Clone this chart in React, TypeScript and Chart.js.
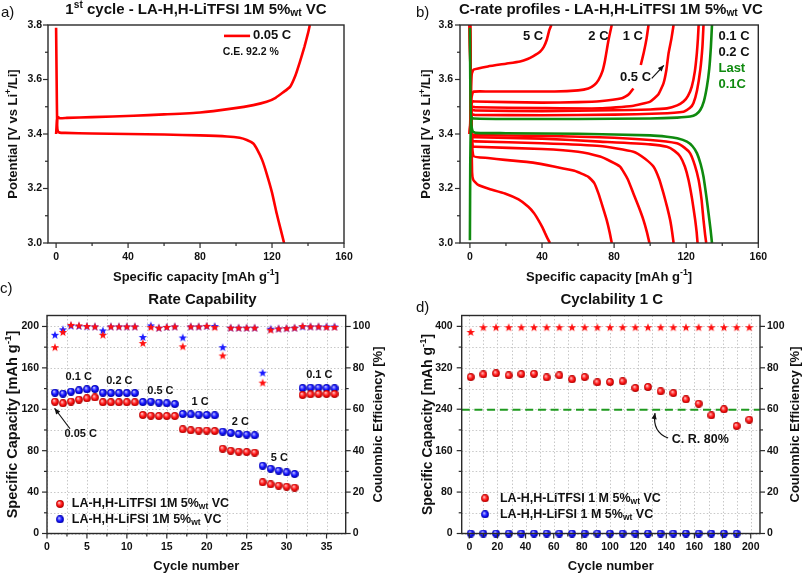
import React, { useEffect, useRef } from 'react';
import { Chart, registerables } from 'chart.js';
Chart.register(...registerables);

type P = [number, number | null];
type Seg = [string, string?];
const FONT = '"Liberation Sans", Arial, Helvetica, sans-serif';
const RED = '#ff0000';
const GREEN = '#0f8a0f';
const INK = '#111111';

// ================= Panel a : 1st cycle, 0.05 C =================
const aCharge005C: P[] = [[0, 3.40], [0.5, 3.45], [1, 3.462], [2, 3.458], [6, 3.459], [20, 3.462], [43, 3.467], [60, 3.472], [80, 3.479], [98.5, 3.494], [109.6, 3.506], [117, 3.518], [122, 3.533], [126, 3.552], [130, 3.573], [133, 3.615], [135.5, 3.665], [138, 3.72], [140, 3.77], [141, 3.8]];
const aDischarge005C: P[] = [[0, 3.79], [0.3, 3.6], [0.6, 3.43], [1, 3.41], [2, 3.405], [5, 3.404], [20, 3.402], [40, 3.4], [60, 3.398], [80, 3.395], [95, 3.391], [102, 3.386], [106, 3.378], [109.6, 3.365], [112, 3.34], [114.5, 3.305], [117, 3.255], [120, 3.185], [122.6, 3.108], [124.8, 3.05], [126.7, 3.0]];
const aXMajor = [0, 40, 80, 120, 160];
const aXMinor = [20, 60, 100, 140];
const aYMajor = [3.0, 3.2, 3.4, 3.6, 3.8];
const aYMinor = [3.1, 3.3, 3.5, 3.7];

// ================= Panel b : C-rate profiles =================
const bLastCharge01C: P[] = [[0, 3.01], [0.2, 3.3], [0.5, 3.43], [1, 3.46], [2, 3.457], [20, 3.455], [60, 3.455], [100, 3.457], [115, 3.46], [122.2, 3.464], [125.5, 3.472], [127.8, 3.488], [129.8, 3.52], [131.5, 3.574], [132.8, 3.64], [133.7, 3.72], [134.3, 3.8]];
const bLastDischarge01C: P[] = [[0, 3.79], [0.2, 3.6], [0.6, 3.45], [1.5, 3.41], [3, 3.404], [20, 3.403], [60, 3.401], [100, 3.395], [109.3, 3.39], [115, 3.384], [120.4, 3.372], [123.5, 3.355], [126, 3.329], [128, 3.29], [129.6, 3.243], [131.2, 3.17], [132.4, 3.109], [133.5, 3.05], [134.3, 3.0]];
const bCharge01C: P[] = [[0, 3.40], [0.5, 3.45], [1, 3.472], [3, 3.47], [40, 3.469], [80, 3.471], [105, 3.475], [118.5, 3.482], [122, 3.495], [124, 3.513], [126, 3.56], [127.8, 3.635], [129, 3.72], [129.6, 3.8]];
const bDischarge01C: P[] = [[0, 3.8], [0.5, 3.5], [1, 3.40], [3, 3.396], [40, 3.393], [72, 3.388], [100, 3.378], [114.8, 3.366], [119, 3.35], [122.2, 3.329], [124.8, 3.285], [126.9, 3.231], [128.5, 3.16], [129.6, 3.084], [130.5, 3.03], [131.1, 3.0]];
const bCharge02C: P[] = [[0, 3.40], [0.6, 3.47], [1.2, 3.488], [3, 3.486], [40, 3.484], [80, 3.487], [100, 3.49], [109.3, 3.494], [115, 3.505], [118.5, 3.519], [121, 3.54], [123.1, 3.574], [124.8, 3.63], [125.9, 3.696], [126.5, 3.75], [126.9, 3.8]];
const bDischarge02C: P[] = [[0, 3.8], [0.5, 3.5], [1.2, 3.39], [3, 3.388], [40, 3.383], [72.2, 3.372], [100, 3.362], [109.3, 3.353], [113.5, 3.338], [116.7, 3.317], [119.3, 3.28], [121.3, 3.231], [123.3, 3.16], [125, 3.084], [125.8, 3.04], [126.3, 3.0]];
const bCharge05C: P[] = [[0, 3.40], [0.6, 3.48], [1.3, 3.5], [3, 3.498], [40, 3.495], [72.2, 3.494], [90, 3.503], [100, 3.519], [104.5, 3.545], [107.4, 3.586], [109, 3.635], [110.2, 3.696], [111.8, 3.75], [113, 3.8]];
const bDischarge05C: P[] = [[0, 3.8], [0.5, 3.5], [1.3, 3.375], [3, 3.373], [40, 3.366], [72.2, 3.356], [90.7, 3.335], [97, 3.31], [101.9, 3.28], [105, 3.235], [107.4, 3.182], [109.5, 3.13], [111.1, 3.084], [112.2, 3.04], [113, 3.0]];
const bCharge1C: P[] = [[0, 3.40], [0.7, 3.5], [1.5, 3.52], [3, 3.519], [40, 3.515], [60, 3.517], [72, 3.52], [84.3, 3.531], [88, 3.545], [90.7, 3.567], [92.5, null], [94.8, 3.653], [96.5, 3.70], [98, 3.75], [99.1, 3.8]];
const bDischarge1C: P[] = [[0, 3.8], [0.5, 3.5], [1.5, 3.355], [3, 3.353], [40, 3.345], [60, 3.335], [72.2, 3.317], [78, 3.3], [83.3, 3.28], [87.5, 3.235], [90.7, 3.182], [93.8, 3.13], [96.3, 3.084], [98.2, 3.04], [99.6, 3.0]];
const bCharge2C: P[] = [[0, 3.40], [0.8, 3.53], [1.9, 3.555], [10, 3.556], [47, 3.556], [60, 3.56], [65.7, 3.567], [69, 3.58], [71.3, 3.598], [73.5, 3.63], [75, 3.672], [76.9, 3.745], [78.7, 3.8]];
const bDischarge2C: P[] = [[0, 3.8], [0.6, 3.5], [1.9, 3.32], [10, 3.312], [19.4, 3.305], [35, 3.295], [47.2, 3.28], [58, 3.265], [65.7, 3.243], [69, 3.22], [71.3, 3.182], [73.8, 3.13], [75.9, 3.084], [77.5, 3.04], [78.7, 3.0]];
const bCharge5C: P[] = [[0, 3.40], [0.6, 3.55], [1, 3.62], [2, 3.636], [10, 3.648], [20, 3.658], [27.8, 3.666], [32, 3.675], [35.2, 3.686], [38.9, 3.702], [41, 3.72], [42.6, 3.745], [44, 3.78], [45.2, 3.8]];
const bDischarge5C: P[] = [[0, 3.8], [0.6, 3.5], [1.2, 3.26], [1.9, 3.231], [4.6, 3.213], [10, 3.2], [19.4, 3.182], [27, 3.16], [32.4, 3.133], [35.5, 3.11], [38, 3.084], [40, 3.06], [41.7, 3.036], [43.2, 3.015], [44.4, 3.0]];

// ================= Panel c : rate capability =================
const cCycles = [1, 2, 3, 4, 5, 6, 7, 8, 9, 10, 11, 12, 13, 14, 15, 16, 17, 18, 19, 20, 21, 22, 23, 24, 25, 26, 27, 28, 29, 30, 31, 32, 33, 34, 35, 36];
const cCapLiTFSI = [127.3, 125.8, 127.5, 129.3, 130.6, 131.4, 126.8, 126.8, 126.8, 126.8, 126.8, 114.5, 113.8, 113.5, 113.5, 113.5, 100.7, 99.7, 99.4, 99.4, 99.0, 81.9, 80.0, 79.0, 78.7, 78.1, 49.5, 47.5, 46.2, 45.2, 44.3, 133.8, 134.5, 134.8, 134.8, 134.8];
const cCapLiFSI = [136.0, 135.1, 137.0, 138.3, 139.3, 139.6, 136.0, 135.7, 135.7, 135.7, 135.7, 127.0, 127.3, 126.4, 125.8, 125.1, 115.5, 115.1, 114.8, 114.5, 114.2, 98.4, 97.1, 96.1, 95.5, 94.9, 65.5, 62.6, 60.7, 59.1, 57.5, 140.5, 140.9, 140.9, 140.6, 140.3];
const cCELiTFSI = [90.0, 97.3, 100.8, 100.5, 100.2, 100.0, 96.0, 100.0, 100.0, 100.0, 100.0, 92.0, 99.7, 99.4, 99.8, 100.0, 90.4, 100.0, 100.0, 100.3, 99.7, 86.0, 99.4, 99.4, 99.4, 99.4, 72.9, 98.4, 99.0, 99.2, 99.4, 100.2, 100.0, 100.0, 99.8, 99.8];
const cCELiFSI = [96.0, 98.6, 100.4, 100.3, 100.1, 100.0, 98.1, 100.0, 100.0, 100.0, 100.0, 94.9, 100.5, 99.4, 99.8, 100.0, 94.7, 100.0, 100.0, 100.2, 100.2, 90.0, 99.4, 99.4, 99.4, 99.4, 77.7, 98.9, 99.0, 99.2, 99.4, 100.0, 100.0, 100.0, 100.0, 100.0];
const cXMajor = [0, 5, 10, 15, 20, 25, 30, 35];
const cXMinor = [2.5, 7.5, 12.5, 17.5, 22.5, 27.5, 32.5];
const cYMajor = [0, 40, 80, 120, 160, 200];
const cYMinor = [20, 60, 100, 140, 180];
const ceMajor = [0, 20, 40, 60, 80, 100];
const ceMinor = [10, 30, 50, 70, 90];

// ================= Panel d : cyclability 1 C =================
const dCycles = [1, 10, 19, 28, 37, 46, 55, 64, 73, 82, 91, 100, 109, 118, 127, 136, 145, 154, 163, 172, 181, 190, 199];
const dCapLiTFSI = [302.1, 307.3, 309.3, 305.4, 307.9, 308.5, 301.5, 305.4, 297.7, 302.1, 291.9, 292.5, 293.8, 280.9, 282.8, 274.5, 271.2, 259.0, 250.6, 228.2, 239.8, 207.5, 219.7];
const dCELiTFSI = [97.3, 99.6, 99.6, 99.6, 99.6, 99.6, 99.6, 99.6, 99.6, 99.6, 99.6, 99.6, 99.6, 99.6, 99.6, 99.6, 99.6, 99.6, 99.6, 99.6, 99.6, 99.6, 99.6];
const dCyclesLiFSI = [1, 10, 19, 28, 37, 46, 55, 64, 73, 82, 91, 100, 109, 118, 127, 136, 145, 154, 163, 172, 181, 190];
const dCapLiFSI = [0, 0, 0, 0, 0, 0, 0, 0, 0, 0, 0, 0, 0, 0, 0, 0, 0, 0, 0, 0, 0, 0];
const dRetention80 = 239;
const dXMajor = [0, 20, 40, 60, 80, 100, 120, 140, 160, 180, 200];
const dXMinor = [10, 30, 50, 70, 90, 110, 130, 150, 170, 190];
const dYMajor = [0, 80, 160, 240, 320, 400];
const dYMinor = [40, 120, 200, 280, 360];

// ================= helpers =================
let IMG: any = null;
function images() {
  if (IMG) return IMG;
  const ball = (base: string, light: string, dark: string) => {
    const d = 8;
    const c = document.createElement('canvas');
    c.width = d; c.height = d;
    const g = c.getContext('2d')!;
    const r = d / 2 - 0.1;
    const grad = g.createRadialGradient(d * 0.36, d * 0.32, 0, d / 2, d / 2, r);
    grad.addColorStop(0, '#ffffff');
    grad.addColorStop(0.25, light);
    grad.addColorStop(0.62, base);
    grad.addColorStop(1, dark);
    g.fillStyle = grad;
    g.beginPath(); g.arc(d / 2, d / 2, r, 0, Math.PI * 2); g.fill();
    return c;
  };
  const star = (color: string) => {
    const R = 4.4, d = 10;
    const c = document.createElement('canvas');
    c.width = d; c.height = d;
    const g = c.getContext('2d')!;
    g.fillStyle = color;
    g.beginPath();
    for (let i = 0; i < 10; i++) {
      const ang = -Math.PI / 2 + (i * Math.PI) / 5;
      const rr = i % 2 ? R * 0.42 : R;
      const px = d / 2 + rr * Math.cos(ang), py = d / 2 + 0.4 + rr * Math.sin(ang);
      if (i === 0) g.moveTo(px, py); else g.lineTo(px, py);
    }
    g.closePath(); g.fill();
    return c;
  };
  IMG = {
    ballRed: ball('#ff1010', '#ff7a7a', '#a80000'),
    ballBlue: ball('#1010ff', '#7a7aff', '#0000a0'),
    starRed: star('#ff1010'),
    starBlue: star('#1a1aff'),
  };
  return IMG;
}

function drawRich(ctx: CanvasRenderingContext2D, segs: Seg[], x: number, y: number, o: { size: number; weight?: string; color?: string; align?: string; rotate?: number }) {
  const weight = o.weight ?? 'bold';
  ctx.save();
  ctx.translate(x, y);
  if (o.rotate) ctx.rotate(o.rotate);
  const fontOf = (m?: string) => `${weight} ${m ? o.size * 0.68 : o.size}px ${FONT}`;
  let total = 0;
  const widths = segs.map(([t, m]) => { ctx.font = fontOf(m); const w = ctx.measureText(t).width; total += w; return w; });
  let cx = o.align === 'left' ? 0 : o.align === 'right' ? -total : -total / 2;
  ctx.textBaseline = 'middle';
  ctx.textAlign = 'left';
  ctx.fillStyle = o.color ?? INK;
  segs.forEach(([t, m], i) => {
    ctx.font = fontOf(m);
    const dy = m === 'sup' ? -o.size * 0.33 : m === 'sub' ? o.size * 0.24 : 0;
    ctx.fillText(t, cx, dy);
    cx += widths[i];
  });
  ctx.restore();
}

function drawArrow(ctx: CanvasRenderingContext2D, x0: number, y0: number, x1: number, y1: number, ctrl?: [number, number]) {
  ctx.save();
  ctx.strokeStyle = INK; ctx.fillStyle = INK; ctx.lineWidth = 1.2;
  ctx.beginPath(); ctx.moveTo(x0, y0);
  let dx: number, dy: number;
  if (ctrl) { ctx.quadraticCurveTo(ctrl[0], ctrl[1], x1, y1); dx = x1 - ctrl[0]; dy = y1 - ctrl[1]; }
  else { ctx.lineTo(x1, y1); dx = x1 - x0; dy = y1 - y0; }
  ctx.stroke();
  const a = Math.atan2(dy, dx), L = 6, W = 2.6;
  ctx.beginPath();
  ctx.moveTo(x1, y1);
  ctx.lineTo(x1 - L * Math.cos(a) + W * Math.sin(a), y1 - L * Math.sin(a) - W * Math.cos(a));
  ctx.lineTo(x1 - L * Math.cos(a) - W * Math.sin(a), y1 - L * Math.sin(a) + W * Math.cos(a));
  ctx.closePath(); ctx.fill();
  ctx.restore();
}

const pts = (arr: P[]) => arr.map(([x, y]) => ({ x, y }));
const zip = (xs: number[], ys: number[]) => xs.map((x, i) => ({ x, y: ys[i] }));
const lineDs = (arr: P[], color: string) => ({ data: pts(arr), showLine: true, borderColor: color, backgroundColor: color, borderWidth: 2.6, pointRadius: 0, tension: 0.15, spanGaps: false, yAxisID: 'y' });
const pointDs = (xs: number[], ys: number[], img: any, axis = 'y') => ({ data: zip(xs, ys), showLine: false, pointStyle: img, pointRadius: 4, clip: false, yAxisID: axis });

type Axis = { min: number; max: number; major: number[]; minor: number[]; dec: number; pad: number };
type Note = { x: number; y: number; segs: Seg[]; size: number; color?: string; align?: string; axis?: string };

function buildSpecs() {
  const I = images();
  const tTitle = (a: string): Seg[] => [[a]];
  const specs: any[] = [
    {
      key: 'a', left: 0, top: 0, width: 400, height: 288,
      area: { l: 48, t: 25, r: 344, b: 243 },
      x: { min: -4.5, max: 160, major: aXMajor, minor: aXMinor, dec: 0, pad: 8 },
      y: { min: 3.0, max: 3.8, major: aYMajor, minor: aYMinor, dec: 1, pad: 6 },
      datasets: [lineDs(aCharge005C, RED), lineDs(aDischarge005C, RED)],
      title: [['1'], ['st', 'sup'], [' cycle - LA-H,H-LiTFSI 1M 5%'], ['wt', 'sub'], [' VC']], titleX: 196, titleY: 10,
      label: { t: 'a)', x: 1, y: 13 },
      xTitle: [['Specific capacity [mAh g'], ['-1', 'sup'], [']']], xTitleDy: 34, xTitleSize: 13,
      yTitle: [['Potential [V vs Li'], ['+', 'sup'], ['/Li]']], yTitleX: 13, yTitleSize: 13,
      notes: [
        { x: 109.4, y: 3.76, segs: tTitle('0.05 C'), size: 13, align: 'left' },
        { x: 92.6, y: 3.702, segs: tTitle('C.E. 92.2 %'), size: 10.5, align: 'left' },
      ],
      legendLine: { x0: 93.3, x1: 107.8, y: 3.76, color: RED },
    },
    {
      key: 'b', left: 400, top: 0, width: 403, height: 288,
      area: { l: 60, t: 25, r: 358.3, b: 243 },
      x: { min: -5.5, max: 160, major: aXMajor, minor: aXMinor, dec: 0, pad: 8 },
      y: { min: 3.0, max: 3.8, major: aYMajor, minor: aYMinor, dec: 1, pad: 7 },
      datasets: [
        lineDs(bLastCharge01C, GREEN), lineDs(bLastDischarge01C, GREEN),
        lineDs(bCharge01C, RED), lineDs(bDischarge01C, RED),
        lineDs(bCharge02C, RED), lineDs(bDischarge02C, RED),
        lineDs(bCharge05C, RED), lineDs(bDischarge05C, RED),
        lineDs(bCharge1C, RED), lineDs(bDischarge1C, RED),
        lineDs(bCharge2C, RED), lineDs(bDischarge2C, RED),
        lineDs(bCharge5C, RED), lineDs(bDischarge5C, RED),
      ],
      title: [['C-rate profiles - LA-H,H-LiTFSI 1M 5%'], ['wt', 'sub'], [' VC']], titleX: 210.8, titleY: 10,
      label: { t: 'b)', x: 16, y: 13 },
      xTitle: [['Specific capacity [mAh g'], ['-1', 'sup'], [']']], xTitleDy: 34, xTitleSize: 13,
      yTitle: [['Potential [V vs Li'], ['+', 'sup'], ['/Li]']], yTitleX: 26.7, yTitleSize: 13,
      notes: [
        { x: 35, y: 3.757, segs: tTitle('5 C'), size: 13 },
        { x: 71.3, y: 3.757, segs: tTitle('2 C'), size: 13 },
        { x: 90.4, y: 3.757, segs: tTitle('1 C'), size: 13 },
        { x: 91.9, y: 3.608, segs: tTitle('0.5 C'), size: 13 },
        { x: 137.9, y: 3.757, segs: tTitle('0.1 C'), size: 13, align: 'left' },
        { x: 137.9, y: 3.70, segs: tTitle('0.2 C'), size: 13, align: 'left' },
        { x: 137.9, y: 3.641, segs: tTitle('Last'), size: 13, align: 'left', color: GREEN },
        { x: 137.9, y: 3.583, segs: tTitle('0.1C'), size: 13, align: 'left', color: GREEN },
      ],
      arrows: [{ from: [100.9, 3.604], to: [107.6, 3.652] }],
    },
    {
      key: 'c', left: 0, top: 280, width: 400, height: 296,
      area: { l: 47, t: 35.5, r: 345.7, b: 253.5 },
      x: { min: 0, max: 37.4, major: cXMajor, minor: cXMinor, dec: 0, pad: 7 },
      y: { min: 0, max: 210.6, major: cYMajor, minor: cYMinor, dec: 0, pad: 8 },
      y2: { min: 0, max: 105.3, major: ceMajor, minor: ceMinor, dec: 0, pad: 7 },
      grid: { x: [...cXMajor, ...cXMinor], y: [...cYMajor, ...cYMinor] },
      datasets: [
        pointDs(cCycles, cCELiTFSI, I.starRed, 'y2'),
        pointDs(cCycles, cCELiFSI, I.starBlue, 'y2'),
        pointDs(cCycles, cCapLiTFSI, I.ballRed),
        pointDs(cCycles, cCapLiFSI, I.ballBlue),
      ],
      title: [['Rate Capability']], titleX: 202.5, titleY: 20,
      label: { t: 'c)', x: 0, y: 9 },
      xTitle: [['Cycle number']], xTitleDy: 33, xTitleSize: 13,
      yTitle: [['Specific Capacity [mAh g'], ['-1', 'sup'], [']']], yTitleX: 12.7, yTitleSize: 14.5,
      y2Title: [['Coulombic Efficiency [%]']], y2TitleX: 378.3, y2TitleSize: 13,
      notes: [
        { x: 3.97, y: 151.5, segs: tTitle('0.1 C'), size: 11 },
        { x: 9.06, y: 147.3, segs: tTitle('0.2 C'), size: 11 },
        { x: 14.2, y: 137.7, segs: tTitle('0.5 C'), size: 11 },
        { x: 19.17, y: 127.3, segs: tTitle('1 C'), size: 11 },
        { x: 24.2, y: 108, segs: tTitle('2 C'), size: 11 },
        { x: 29.1, y: 72.7, segs: tTitle('5 C'), size: 11 },
        { x: 34.1, y: 153.1, segs: tTitle('0.1 C'), size: 11 },
        { x: 4.22, y: 96.1, segs: tTitle('0.05 C'), size: 11 },
        { x: 3.1, y: 28.5, segs: [['LA-H,H-LiTFSI 1M 5%'], ['wt', 'sub'], [' VC']], size: 12.5, align: 'left' },
        { x: 3.1, y: 13.7, segs: [['LA-H,H-LiFSI 1M 5%'], ['wt', 'sub'], [' VC']], size: 12.5, align: 'left' },
      ],
      arrows: [{ from: [2.88, 101.2], to: [0.95, 121.0] }],
      legendImgs: [{ x: 1.63, y: 28.5, img: I.ballRed }, { x: 1.63, y: 13.7, img: I.ballBlue }],
    },
    {
      key: 'd', left: 400, top: 280, width: 403, height: 296,
      area: { l: 61.7, t: 35.5, r: 360, b: 253.5 },
      x: { min: -5.4, max: 206.6, major: dXMajor, minor: dXMinor, dec: 0, pad: 7 },
      y: { min: 0, max: 421, major: dYMajor, minor: dYMinor, dec: 0, pad: 9 },
      y2: { min: 0, max: 105.25, major: ceMajor, minor: ceMinor, dec: 0, pad: 7 },
      grid: { x: [...dXMajor, ...dXMinor], y: [...dYMajor, ...dYMinor] },
      datasets: [
        pointDs(dCycles, dCELiTFSI, I.starRed, 'y2'),
        pointDs(dCycles, dCapLiTFSI, I.ballRed),
        pointDs(dCyclesLiFSI, dCapLiFSI, I.ballBlue),
        { data: [{ x: -5.4, y: dRetention80 }, { x: 206.6, y: dRetention80 }], showLine: true, borderColor: '#1f9a1f', borderWidth: 2, borderDash: [8, 4.7], pointRadius: 0, yAxisID: 'y' },
      ],
      title: [['Cyclability 1 C']], titleX: 211.7, titleY: 20,
      label: { t: 'd)', x: 16, y: 28.3 },
      xTitle: [['Cycle number']], xTitleDy: 33, xTitleSize: 13,
      yTitle: [['Specific Capacity [mAh g'], ['-1', 'sup'], [']']], yTitleX: 28.3, yTitleSize: 14,
      y2Title: [['Coulombic Efficiency [%]']], y2TitleX: 395, y2TitleSize: 13,
      notes: [
        { x: 143.9, y: 180.5, segs: tTitle('C. R. 80%'), size: 12.5, align: 'left' },
        { x: 21.8, y: 68, segs: [['LA-H,H-LiTFSI 1 M 5%'], ['wt', 'sub'], [' VC']], size: 12.5, align: 'left' },
        { x: 21.8, y: 37, segs: [['LA-H,H-LiFSI 1 M 5%'], ['wt', 'sub'], [' VC']], size: 12.5, align: 'left' },
      ],
      arrows: [{ from: [141.3, 184.4], to: [132, 232.6], ctrl: [129.9, 196] }],
      legendImgs: [{ x: 11.2, y: 68, img: I.ballRed }, { x: 11.2, y: 37, img: I.ballBlue }],
    },
  ];
  return specs;
}

function buildConfig(spec: any): any {
  const W = spec.width, H = spec.height, A = spec.area;
  const scaleOpt = (ax: Axis, pos: string, fit: (s: any) => void) => ({
    type: 'linear', position: pos, min: ax.min, max: ax.max,
    grid: { display: false, drawTicks: false },
    border: { display: false },
    afterBuildTicks: (s: any) => { s.ticks = ax.major.map((v) => ({ value: v })); },
    afterFit: fit,
    ticks: {
      autoSkip: false, maxRotation: 0, minRotation: 0, padding: ax.pad, color: INK,
      font: { family: FONT, size: 10.5, weight: 'bold' },
      callback: (v: number) => Number(v).toFixed(ax.dec),
    },
  });
  const scales: any = {
    x: scaleOpt(spec.x, 'bottom', (s) => { s.height = H - A.b; }),
    y: scaleOpt(spec.y, 'left', (s) => { s.width = A.l; }),
  };
  if (spec.y2) scales.y2 = scaleOpt(spec.y2, 'right', (s) => { s.width = W - A.r; });

  const decor = {
    id: 'decor',
    beforeDatasetsDraw(chart: any) {
      if (!spec.grid) return;
      const { ctx, chartArea: a, scales: sc } = chart;
      ctx.save();
      ctx.strokeStyle = '#c8c8c8'; ctx.lineWidth = 1; ctx.setLineDash([1.5, 2]);
      spec.grid.x.forEach((v: number) => {
        const p = Math.round(sc.x.getPixelForValue(v)) + 0.5;
        ctx.beginPath(); ctx.moveTo(p, a.top); ctx.lineTo(p, a.bottom); ctx.stroke();
      });
      spec.grid.y.forEach((v: number) => {
        const p = Math.round(sc.y.getPixelForValue(v)) + 0.5;
        ctx.beginPath(); ctx.moveTo(a.left, p); ctx.lineTo(a.right, p); ctx.stroke();
      });
      ctx.restore();
    },
    afterDatasetsDraw(chart: any) {
      const { ctx, chartArea: a, scales: sc } = chart;
      ctx.save();
      ctx.strokeStyle = '#2a2a2a'; ctx.lineWidth = 1.4;
      ctx.strokeRect(a.left, a.top, a.right - a.left, a.bottom - a.top);
      ctx.lineWidth = 1.2;
      const tick = (scale: any, vals: number[], len: number, side: string) => {
        vals.forEach((v) => {
          const p = scale.getPixelForValue(v);
          ctx.beginPath();
          if (side === 'b') { ctx.moveTo(p, a.bottom); ctx.lineTo(p, a.bottom + len); }
          if (side === 'l') { ctx.moveTo(a.left, p); ctx.lineTo(a.left - len, p); }
          if (side === 'r') { ctx.moveTo(a.right, p); ctx.lineTo(a.right + len, p); }
          ctx.stroke();
        });
      };
      tick(sc.x, spec.x.major, 5, 'b'); tick(sc.x, spec.x.minor, 3, 'b');
      tick(sc.y, spec.y.major, 5, 'l'); tick(sc.y, spec.y.minor, 3, 'l');
      if (spec.y2) { tick(sc.y2, spec.y2.major, 5, 'r'); tick(sc.y2, spec.y2.minor, 3, 'r'); }
      ctx.restore();
    },
    afterDraw(chart: any) {
      const { ctx, chartArea: a, scales: sc } = chart;
      const cx = (a.left + a.right) / 2, cy = (a.top + a.bottom) / 2;
      drawRich(ctx, spec.title, spec.titleX, spec.titleY, { size: 15 });
      drawRich(ctx, [[spec.label.t]], spec.label.x, spec.label.y, { size: 15, weight: 'normal', align: 'left' });
      drawRich(ctx, spec.xTitle, cx, a.bottom + spec.xTitleDy, { size: spec.xTitleSize });
      drawRich(ctx, spec.yTitle, spec.yTitleX, cy, { size: spec.yTitleSize, rotate: -Math.PI / 2 });
      if (spec.y2Title) drawRich(ctx, spec.y2Title, spec.y2TitleX, cy, { size: spec.y2TitleSize, rotate: -Math.PI / 2 });
      if (spec.legendLine) {
        const L = spec.legendLine;
        ctx.save(); ctx.strokeStyle = L.color; ctx.lineWidth = 2.6;
        const yy = sc.y.getPixelForValue(L.y);
        ctx.beginPath(); ctx.moveTo(sc.x.getPixelForValue(L.x0), yy); ctx.lineTo(sc.x.getPixelForValue(L.x1), yy); ctx.stroke();
        ctx.restore();
      }
      (spec.legendImgs || []).forEach((g: any) => {
        const px = sc.x.getPixelForValue(g.x), py = sc.y.getPixelForValue(g.y);
        ctx.drawImage(g.img, px - g.img.width / 2, py - g.img.height / 2);
      });
      (spec.notes || []).forEach((n: Note) => {
        const ys = sc[n.axis || 'y'];
        drawRich(ctx, n.segs, sc.x.getPixelForValue(n.x), ys.getPixelForValue(n.y), { size: n.size, color: n.color, align: n.align || 'center' });
      });
      (spec.arrows || []).forEach((r: any) => {
        const f = [sc.x.getPixelForValue(r.from[0]), sc.y.getPixelForValue(r.from[1])];
        const t = [sc.x.getPixelForValue(r.to[0]), sc.y.getPixelForValue(r.to[1])];
        const c = r.ctrl ? [sc.x.getPixelForValue(r.ctrl[0]), sc.y.getPixelForValue(r.ctrl[1])] as [number, number] : undefined;
        drawArrow(ctx, f[0], f[1], t[0], t[1], c);
      });
    },
  };

  return {
    type: 'scatter',
    data: { datasets: spec.datasets },
    options: {
      animation: false, responsive: false, maintainAspectRatio: false, events: [],
      layout: { padding: { left: 0, top: A.t, right: spec.y2 ? 0 : W - A.r, bottom: 0 } },
      scales,
      plugins: { legend: { display: false }, tooltip: { enabled: false }, title: { display: false } },
    },
    plugins: [decor],
  };
}

function PanelChart({ spec }: { spec: any }) {
  const ref = useRef<HTMLCanvasElement>(null);
  useEffect(() => {
    const chart = new Chart(ref.current!, buildConfig(spec));
    return () => chart.destroy();
  }, [spec]);
  return (
    <canvas ref={ref} width={spec.width} height={spec.height}
      style={{ position: 'absolute', left: spec.left, top: spec.top, width: spec.width, height: spec.height }} />
  );
}

let SPECS: any[] | null = null;
export default function App() {
  if (!SPECS) SPECS = buildSpecs();
  return (
    <div style={{ position: 'absolute', left: 0, top: 0, width: 803, height: 576, background: '#ffffff', overflow: 'hidden' }}>
      {SPECS.map((s) => <PanelChart key={s.key} spec={s} />)}
    </div>
  );
}
